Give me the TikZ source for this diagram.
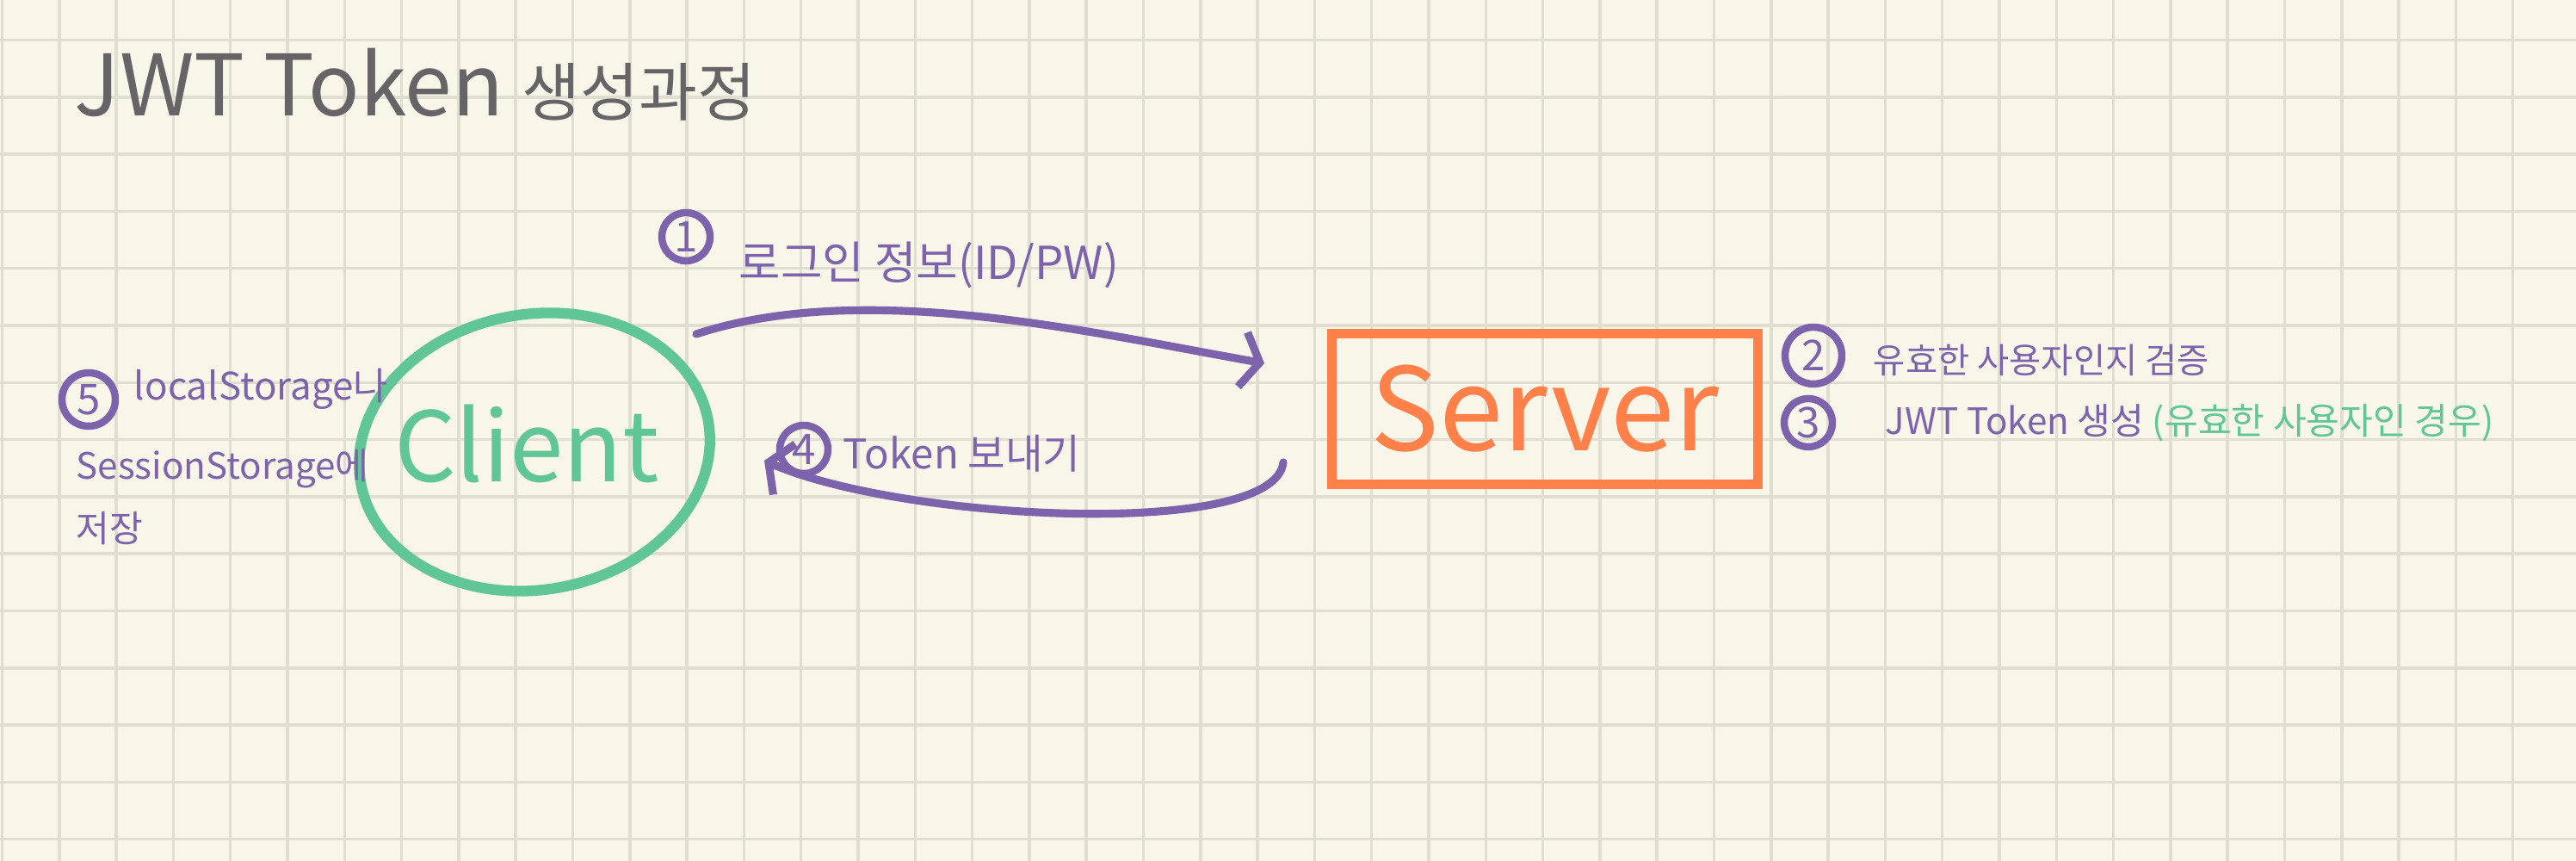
\documentclass[tikz,border=0pt]{standalone}
\usepackage{fontspec}
\setmainfont{Noto Sans CJK KR}
\usetikzlibrary{positioning,shapes.geometric,arrows.meta}
\definecolor{paper}{HTML}{F8F5E9}
\definecolor{gridtone}{HTML}{E0DDD1}
\definecolor{inkgray}{HTML}{666466}
\definecolor{inkviolet}{HTML}{7D63AC}
\definecolor{inkmint}{HTML}{60C698}
\definecolor{inkorange}{HTML}{FF8048}
\newcommand{\fsz}[1]{\fontsize{#1}{#1}\selectfont}

\begin{document}
\begin{tikzpicture}[
  paperline/.style={draw=gridtone, line width=1pt},
  numring/.style={circle, draw=inkviolet, line width=2.4pt, text=inkviolet, inner sep=0pt, minimum size=0.56cm, font=\fsz{14pt}},
  note/.style={text=inkviolet, inner sep=0pt, anchor=base west},
  flow/.style={draw=inkviolet, line width=2.6pt, line cap=round, line join=round, -{Straight Barb[length=0.2cm, width=0.64cm]}}
]
\fill[paper] (0,0) rectangle (29.93,10);
\useasboundingbox (0,0) rectangle (29.93,10);
\foreach \k in {0,...,44}
  \draw[paperline] (0.025+0.663*\k,0) -- ++(0,10);
\foreach \k in {0,...,14}
  \draw[paperline] (0,9.535-0.663*\k) -- ++(29.93,0);

% title
\node[text=inkgray, inner sep=0pt, anchor=base west, font=\fsz{28pt}] (title) at (0.86,8.65) {JWT Token {\fsz{21pt}생성과정}};

% client and server
\node[ellipse, draw=inkmint, line width=3.5pt, minimum width=4.1cm, minimum height=3.2cm, rotate=10] (client) at (6.21,4.75) {};
\node[text=inkmint, inner sep=0pt, font=\fsz{32pt}] (clientname) at (6.12,4.85) {Client};
\node[draw=inkorange, line width=3pt, minimum width=4.95cm, minimum height=1.75cm, text=inkorange, font=\fsz{38pt}] (server) at (17.95,5.25) {Server};

% connector ends
\coordinate (loginout) at ([shift={(1.88,1.37)}]client.center);
\coordinate (loginin) at ([shift={(-3.26,0.53)}]server.center);
\coordinate (tokenout) at ([shift={(-3.04,-0.62)}]server.center);
\coordinate (tokenin) at ([shift={(2.67,-0.10)}]client.center);

\draw[flow] (loginout) to[out=18, in=170, looseness=0.8] (loginin);
\draw[flow] (tokenout) .. controls +(-0.1,-0.9) and +(1.6,-0.7) .. (tokenin);

% step 1
\node[numring] (n1) at (7.97,7.25) {1};
\node[note, font=\fsz{15pt}, right=0.29cm of n1, yshift=-0.33cm] (t1) {로그인 정보(ID/PW)};

% step 4
\node[numring] (n4) at (9.34,4.78) {4};
\node[note, font=\fsz{13.5pt}, right=0.13cm of n4, yshift=-0.05cm] (t4) {Token 보내기};

% steps 2 and 3
\node[numring, minimum size=0.66cm] (n2) at (21.07,5.87) {2};
\node[note, font=\fsz{11.5pt}, right=0.32cm of n2, yshift=-0.05cm] (t2) {유효한 사용자인지 검증};
\node[numring] (n3) at (21.01,5.09) {3};
\node[note, font=\fsz{12pt}, right=0.57cm of n3] (t3) {JWT Token 생성 \textcolor{inkmint}{(유효한 사용자인 경우)}};

% step 5
\node[numring, minimum size=0.62cm] (n5) at (1.03,5.36) {5};
\node[note, font=\fsz{12.5pt}, right=0.17cm of n5, yshift=0.12cm] (t5a) {localStorage나};
\node[note, font=\fsz{12pt}] (t5b) at (0.88,4.43) {SessionStorage에};
\node[note, font=\fsz{12pt}] (t5c) at ([yshift=-0.73cm]t5b.base west) {저장};
\end{tikzpicture}
\end{document}
